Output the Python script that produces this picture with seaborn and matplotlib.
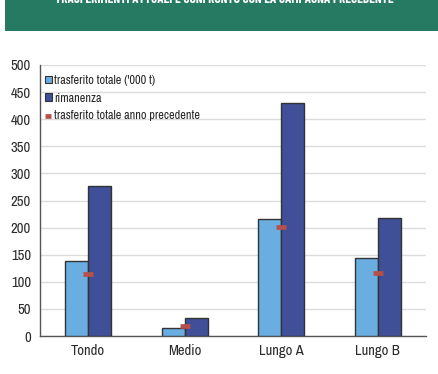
import matplotlib
matplotlib.use("Agg")
import matplotlib.pyplot as plt
from matplotlib.patches import Rectangle
import seaborn as sns
import pandas as pd

categories = ["Tondo", "Medio", "Lungo A", "Lungo B"]
trasferito = [138, 14, 215, 144]
rimanenza = [276, 33, 430, 217]
anno_precedente = [114, 18, 201, 116]
series_names = ["trasferito totale ('000 t)", "rimanenza"]
prev_name = "trasferito totale anno precedente"
title = "TRASFERIMENTI ATTUALI E CONFRONTO CON LA CAMPAGNA PRECEDENTE"

sns.set_theme(style="white")
plt.rcParams["font.family"] = ["Archivo Narrow", "Liberation Sans", "DejaVu Sans"]

df = pd.DataFrame({
    "categoria": categories * 2,
    "valore": trasferito + rimanenza,
    "serie": [series_names[0]] * 4 + [series_names[1]] * 4,
})

fig = plt.figure(figsize=(4.39, 3.74), dpi=100)
ax = fig.add_axes([40 / 439, 1 - 336 / 374, 386 / 439, 271 / 374])

# header band
fig.patches.append(Rectangle((5 / 439, 1 - 31 / 374), 434 / 439, 31 / 374,
                             transform=fig.transFigure, facecolor="#267a62",
                             edgecolor="none", zorder=0))
fig.text(224 / 439, 1 - 3 / 374, title, ha="center", va="baseline", color="white",
         fontsize=9.45, fontweight="bold",
         family=["Barlow Condensed", "Archivo Narrow", "Liberation Sans"])

palette = {series_names[0]: "#69ade1", series_names[1]: "#3f4f98"}
sns.barplot(data=df, x="categoria", y="valore", hue="serie", palette=palette,
            width=0.48, gap=0, edgecolor="#333333", linewidth=1.0,
            saturation=1, ax=ax, zorder=3)

ax.scatter(range(len(categories)), anno_precedente, marker="_", s=60,
           linewidths=3.4, color="#b5504a", zorder=5, label=prev_name)

ax.set_ylim(0, 500)
ax.set_xlim(-0.5, 3.5)
ax.set_yticks(range(0, 501, 50))
ax.set_xlabel("")
ax.set_ylabel("")
ax.grid(axis="y", color="#dcdcdc", linewidth=1.0, zorder=0)
ax.set_axisbelow(True)
for side in ("top", "right"):
    ax.spines[side].set_visible(False)
for side in ("left", "bottom"):
    ax.spines[side].set_color("#555555")
    ax.spines[side].set_linewidth(1.0)
ax.tick_params(axis="both", length=0, labelsize=10.5, colors="#2a2a2a", pad=6)
ax.tick_params(axis="y", pad=6.5)

handles, labels = ax.get_legend_handles_labels()
leg = ax.legend(handles, labels, loc="upper left", bbox_to_anchor=(-0.01, 0.995),
                frameon=False, fontsize=8.8, handlelength=0.6, handleheight=0.6,
                handletextpad=0.2, labelspacing=0.55, borderaxespad=0.3,
                markerscale=0.5)
for h in leg.legend_handles[:2]:
    h.set_edgecolor("#333333")
    h.set_linewidth(0.8)

fig.savefig("out.png", dpi=100)
